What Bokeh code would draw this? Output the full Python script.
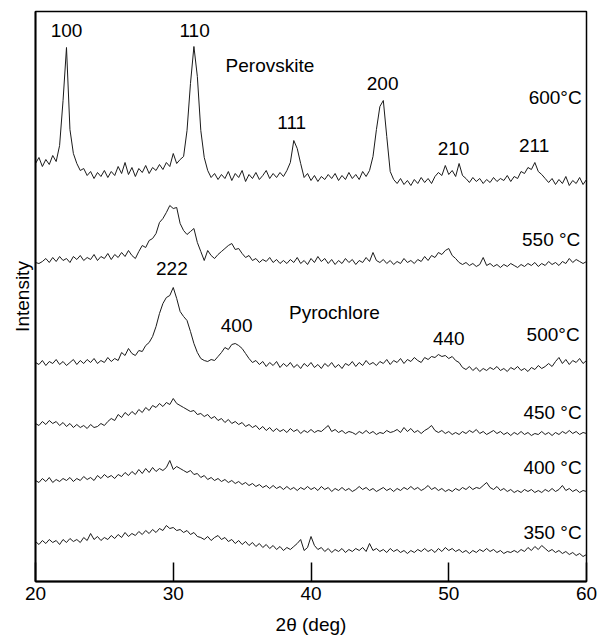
from bokeh.plotting import figure
from bokeh.models import Range1d, FixedTicker, Label
from bokeh.embed import file_html
from bokeh.resources import INLINE

# 2-theta scan positions (deg)
two_theta = [
    20.0, 20.25, 20.5, 20.75, 21.0, 21.25, 21.5, 21.75,
    22.0, 22.25, 22.5, 22.75, 23.0, 23.25, 23.5, 23.75,
    24.0, 24.25, 24.5, 24.75, 25.0, 25.25, 25.5, 25.75,
    26.0, 26.25, 26.5, 26.75, 27.0, 27.25, 27.5, 27.75,
    28.0, 28.25, 28.5, 28.75, 29.0, 29.25, 29.5, 29.75,
    30.0, 30.25, 30.5, 30.75, 31.0, 31.25, 31.5, 31.75,
    32.0, 32.25, 32.5, 32.75, 33.0, 33.25, 33.5, 33.75,
    34.0, 34.25, 34.5, 34.75, 35.0, 35.25, 35.5, 35.75,
    36.0, 36.25, 36.5, 36.75, 37.0, 37.25, 37.5, 37.75,
    38.0, 38.25, 38.5, 38.75, 39.0, 39.25, 39.5, 39.75,
    40.0, 40.25, 40.5, 40.75, 41.0, 41.25, 41.5, 41.75,
    42.0, 42.25, 42.5, 42.75, 43.0, 43.25, 43.5, 43.75,
    44.0, 44.25, 44.5, 44.75, 45.0, 45.25, 45.5, 45.75,
    46.0, 46.25, 46.5, 46.75, 47.0, 47.25, 47.5, 47.75,
    48.0, 48.25, 48.5, 48.75, 49.0, 49.25, 49.5, 49.75,
    50.0, 50.25, 50.5, 50.75, 51.0, 51.25, 51.5, 51.75,
    52.0, 52.25, 52.5, 52.75, 53.0, 53.25, 53.5, 53.75,
    54.0, 54.25, 54.5, 54.75, 55.0, 55.25, 55.5, 55.75,
    56.0, 56.25, 56.5, 56.75, 57.0, 57.25, 57.5, 57.75,
    58.0, 58.25, 58.5, 58.75, 59.0, 59.25, 59.5, 59.75,
    60.0,
]

# Intensities (arbitrary units, stacked traces)
i_600 = [
    418, 424, 415, 422, 417, 426, 420, 436,
    481, 534, 452, 428, 418, 411, 413, 406,
    410, 403, 409, 405, 411, 404, 410, 406,
    415, 408, 419, 407, 414, 405, 413, 409,
    416, 408, 414, 411, 417, 412, 419, 415,
    428, 418, 422, 425, 451, 498, 535, 505,
    451, 424, 411, 404, 408, 402, 407, 403,
    410, 401, 408, 404, 411, 400, 407, 403,
    409, 402, 406, 411, 403, 408, 404, 409,
    405, 411, 419, 441, 433, 418, 404, 408,
    401, 406, 400, 405, 402, 407, 403, 408,
    401, 406, 402, 409, 403, 407, 402, 410,
    405, 411, 425, 452, 475, 481, 445, 410,
    402, 398, 403, 397, 401, 396, 402, 398,
    404, 399, 403, 398, 405, 409, 406, 416,
    407, 411, 405, 418, 406, 403, 399, 404,
    400, 403, 398, 402, 399, 404, 400, 403,
    401, 406, 400, 405, 403, 410, 408, 414,
    412, 419, 410, 407, 403, 399, 403, 397,
    402, 398, 405, 396, 401, 398, 404, 397,
    402,
]
i_550 = [
    319, 318, 320, 323, 319, 324, 320, 325,
    321, 323, 319, 325, 322, 326, 321, 324,
    322, 327, 321, 325, 323, 328, 322, 327,
    324, 329, 325, 331, 326, 323, 330, 336,
    334, 341, 343, 348, 359, 363, 369, 376,
    373, 374, 358, 351, 347, 350, 353, 339,
    330, 321, 331, 326, 323, 327, 330, 333,
    336, 338, 332, 333, 328, 324, 326, 321,
    323, 319, 322, 320, 324, 319, 322, 318,
    321, 318, 322, 319, 324, 318, 321, 317,
    323, 319, 325, 320, 323, 318, 322, 317,
    321, 318, 323, 319, 322, 317, 321, 319,
    324, 320, 329, 321, 319, 322, 318, 321,
    317, 320, 318, 323, 319, 321, 318, 322,
    320, 325, 321, 326, 324, 329, 327, 331,
    333, 326, 323, 319, 317, 319, 316, 318,
    315, 317, 324, 316, 318, 315, 317, 314,
    317, 315, 318, 316, 314, 317, 315, 318,
    316, 319, 315, 318, 316, 320, 317, 319,
    316, 320, 318, 323, 319, 322, 320, 318,
    320,
]
i_500 = [
    219, 217, 221, 216, 220, 218, 222, 217,
    220, 216, 219, 222, 217, 221, 218, 222,
    219, 223, 218, 221, 219, 224, 220, 223,
    221, 229, 226, 233, 228, 226, 231, 230,
    236, 239, 245, 255, 268, 278, 284, 286,
    294, 283, 270, 265, 261, 250, 238, 229,
    223, 221, 220, 222, 221, 225, 229, 234,
    232, 237, 238, 236, 233, 228, 223, 219,
    221, 217, 220, 215, 219, 216, 220, 214,
    218, 215, 219, 214, 217, 213, 218, 215,
    219, 214, 217, 213, 218, 215, 219, 214,
    217, 213, 218, 216, 220, 215, 219, 216,
    221, 217, 219, 216, 220, 218, 222, 217,
    221, 219, 223, 218, 222, 220, 224, 221,
    219, 224, 222, 225, 224, 227, 225, 226,
    223, 225, 221, 219, 214, 212, 215, 211,
    214, 210, 213, 211, 214, 212, 215, 211,
    213, 210, 214, 212, 215, 211, 213, 210,
    214, 212, 216, 213, 215, 218, 215, 220,
    224, 218, 222, 217, 221, 219, 223, 218,
    221,
]
i_450 = [
    158, 156, 160, 157, 161, 158, 160, 156,
    159, 155, 158, 154, 157, 154, 156, 153,
    157, 154, 155, 158, 156, 160, 163, 161,
    167, 164, 169, 166, 170, 167, 172, 169,
    174, 171, 176, 174, 178, 175, 179, 177,
    183, 178, 176, 174, 172, 170, 171, 167,
    168, 165, 167, 163, 165, 161, 163, 159,
    162, 158, 160, 157, 159, 155, 157, 154,
    156, 152, 155, 151, 154, 150, 153, 150,
    152, 149, 153, 150, 152, 148, 151, 149,
    152, 149, 151, 150, 153, 156, 150, 152,
    149, 151, 148, 150, 149, 147, 150, 148,
    151, 148, 150, 147, 149, 148, 151, 149,
    150, 152, 149, 154, 150, 153, 149, 151,
    148, 151, 153, 156, 151, 149, 151, 148,
    150, 147, 149, 147, 150, 148, 151, 149,
    152, 148, 150, 147, 149, 151, 148, 150,
    147, 149, 146, 149, 147, 150, 147, 149,
    146, 148, 147, 150, 147, 149, 146, 149,
    147, 150, 148, 151, 148, 150, 147, 149,
    148,
]
i_400 = [
    101, 99, 103, 100, 104, 99, 102, 100,
    103, 101, 104, 100, 103, 101, 105, 102,
    104, 101, 106, 103, 107, 104, 106, 103,
    107, 105, 109, 106, 110, 107, 112, 108,
    113, 109, 114, 110, 113, 111, 114, 121,
    112, 115, 113, 111, 109, 111, 107, 108,
    104, 106, 102, 104, 101, 103, 100, 102,
    99, 101, 98, 100, 97, 99, 96, 98,
    95, 97, 94, 96, 93, 96, 93, 95,
    92, 95, 92, 94, 91, 94, 92, 95,
    92, 94, 91, 95, 92, 94, 90, 93,
    91, 94, 91, 93, 90, 92, 95, 92,
    94, 91, 93, 90, 92, 94, 91, 93,
    90, 93, 91, 94, 92, 95, 92, 94,
    91, 93, 96, 92, 94, 91, 93, 90,
    92, 90, 93, 91, 94, 92, 95, 92,
    94, 93, 96, 99, 94, 92, 95, 91,
    93, 90, 92, 89, 91, 89, 92, 90,
    92, 89, 91, 89, 92, 90, 93, 90,
    92, 96, 91, 93, 90, 92, 89, 91,
    90,
]
i_350 = [
    40, 37, 41, 38, 42, 39, 41, 37,
    42, 39, 43, 40, 42, 39, 44, 41,
    48, 42, 45, 41, 44, 42, 46, 43,
    47, 44, 49, 45, 48, 46, 50, 47,
    51, 48, 52, 49, 53, 51, 56, 53,
    54, 51, 52, 49, 51, 47, 49, 45,
    44, 42, 45, 41, 44, 46, 42, 44,
    40, 42, 38, 41, 37, 40, 36, 39,
    35, 38, 34, 37, 33, 36, 32, 35,
    31, 34, 32, 35, 38, 42, 31, 34,
    45, 36, 32, 34, 30, 33, 29, 32,
    30, 33, 29, 32, 30, 33, 31, 34,
    30, 38, 31, 33, 30, 32, 29, 33,
    30, 32, 29, 31, 28, 31, 29, 32,
    30, 33, 30, 32, 29, 33, 30, 34,
    31, 33, 30, 32, 29, 31, 28, 31,
    29, 32, 30, 33, 30, 32, 29, 31,
    28, 30, 29, 31, 29, 32, 30, 34,
    31, 35, 32, 36, 33, 30, 32, 29,
    31, 28, 30, 27, 29, 26, 28, 25,
    27,
]
traces = [i_600, i_550, i_500, i_450, i_400, i_350]

x_ticks = [20, 30, 40, 50, 60]

# annotations: text, x (deg), y (a.u.), alignment
ann_text = ["100", "110", "Perovskite", "111", "200", "210", "211", "600°C",
            "550 °C", "222", "400", "Pyrochlore", "440", "500°C",
            "450 °C", "400 °C", "350 °C"]
ann_x = [22.25, 31.55, 33.8, 38.6, 45.2, 50.35, 56.2, 59.65,
         59.55, 29.9, 34.6, 38.4, 50.0, 59.5,
         59.65, 59.65, 59.65]
ann_y = [551, 551, 516, 459, 498, 433, 436, 484,
         342, 313, 256, 269, 243, 247,
         169, 114, 49]
ann_align = ["center", "center", "left", "center", "center", "center", "center", "right",
             "right", "center", "center", "left", "center", "right",
             "right", "right", "right"]

FONT = "Liberation Sans"

p = figure(width=597, height=637, output_backend="svg", toolbar_location=None,
           x_range=Range1d(20, 60), y_range=Range1d(0, 570),
           min_border_left=35, min_border_right=11, min_border_top=11, min_border_bottom=56)
p.grid.visible = False
p.outline_line_color = "black"
p.outline_line_width = 1.5

for tr in traces:
    p.line(two_theta, tr, line_color="#1a1a1a", line_width=1)

p.xaxis.ticker = FixedTicker(ticks=x_ticks)
p.xaxis.major_tick_in = 19
p.xaxis.major_tick_out = 0
p.xaxis.minor_tick_in = 0
p.xaxis.minor_tick_out = 0
p.xaxis.major_tick_line_width = 1.5
p.xaxis.axis_line_width = 1.8
p.xaxis.major_label_text_font = FONT
p.xaxis.major_label_text_font_size = "19px"
p.xaxis.major_label_text_color = "black"
p.xaxis.major_label_standoff = 5
p.xaxis.axis_label = "2θ (deg)"
p.xaxis.axis_label_text_font = FONT
p.xaxis.axis_label_text_font_size = "19px"
p.xaxis.axis_label_text_font_style = "normal"
p.xaxis.axis_label_text_color = "black"
p.xaxis.axis_label_standoff = 11

p.yaxis.ticker = FixedTicker(ticks=[])
p.yaxis.major_tick_in = 0
p.yaxis.major_tick_out = 0
p.yaxis.minor_tick_in = 0
p.yaxis.minor_tick_out = 0
p.yaxis.major_label_standoff = 0
p.yaxis.axis_line_color = "black"
p.yaxis.axis_line_width = 1.8
p.yaxis.axis_label = "Intensity"
p.yaxis.axis_label_text_font = FONT
p.yaxis.axis_label_text_font_size = "19px"
p.yaxis.axis_label_text_font_style = "normal"
p.yaxis.axis_label_text_color = "black"
p.yaxis.axis_label_standoff = 3

for t, x, y, a in zip(ann_text, ann_x, ann_y, ann_align):
    p.add_layout(Label(x=x, y=y, text=t, text_align=a, text_baseline="middle",
                       text_font=FONT, text_font_size="19px", text_color="black"))

open("out.html", "w").write(file_html(p, INLINE))
